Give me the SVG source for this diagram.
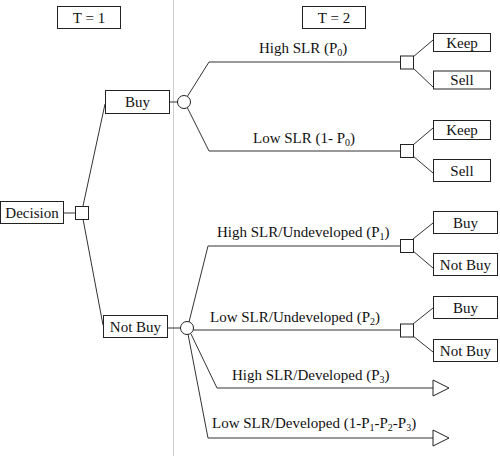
<svg xmlns="http://www.w3.org/2000/svg" width="500" height="470" viewBox="0 0 500 470">
<style>
.box{fill:#fff;stroke:#222;stroke-width:1}
.t{font-family:"Liberation Serif","Times New Roman",serif;font-size:15px;fill:#111}
.c{text-anchor:middle}
.ln{fill:none;stroke:#333;stroke-width:1}
.sub{font-size:10px}
</style>
<rect width="500" height="470" fill="#fff"/>
<line x1="173.5" y1="0" x2="173.5" y2="456" stroke="#cfcfcf" stroke-width="1"/>
<g id="connectors" class="ln">
<polyline points="63,213 75,213"/>
<polyline points="83,206 105,104"/>
<polyline points="83,219 103,325"/>
<polyline points="169,102 178,102"/>
<polyline points="187,97 209,62 400,62"/>
<polyline points="187,107 209,151 400,151"/>
<polyline points="413,57 433,40"/>
<polyline points="413,68 433,87"/>
<polyline points="413,145 433,128"/>
<polyline points="413,156 433,173"/>
<polyline points="167,328 181,328"/>
<polyline points="189,322 208,246 400,246"/>
<polyline points="193,330 400,330"/>
<polyline points="191,334 217,388 433,388"/>
<polyline points="188,334 208,438 433,438"/>
<polyline points="413,239 433,223"/>
<polyline points="413,251 433,268"/>
<polyline points="413,324 433,308"/>
<polyline points="413,336 433,352"/>
</g>
<g id="t1"><rect class="box" x="57.5" y="6.5" width="63" height="22"/><text class="t c" x="89" y="23">T = 1</text></g>
<g id="t2"><rect class="box" x="302.5" y="6.5" width="63" height="22"/><text class="t c" x="334" y="23">T = 2</text></g>
<g id="decision"><rect class="box" x="0.5" y="201.5" width="63" height="22"/><text class="t c" x="32" y="218">Decision</text></g>
<g id="dec1"><rect class="box" x="75.5" y="206.5" width="13" height="13"/></g>
<g id="buy"><rect class="box" x="105.5" y="90.5" width="64" height="23"/><text class="t c" x="137.5" y="107">Buy</text></g>
<g id="chance1"><circle class="box" cx="184" cy="102" r="6.5"/></g>
<g id="notbuy"><rect class="box" x="103.5" y="315.5" width="64" height="22"/><text class="t c" x="135.5" y="332">Not Buy</text></g>
<g id="chance2"><circle class="box" cx="187" cy="328" r="6.5"/></g>
<g id="dec2"><rect class="box" x="400.5" y="56" width="13" height="13"/></g>
<g id="dec3"><rect class="box" x="400.5" y="144.5" width="13" height="13"/></g>
<g id="dec4"><rect class="box" x="400.5" y="239.5" width="13" height="13"/></g>
<g id="dec5"><rect class="box" x="400.5" y="324" width="13" height="13"/></g>
<g id="keep1"><rect class="box" x="433.5" y="33.5" width="57" height="18"/><text class="t c" x="462" y="48">Keep</text></g>
<g id="sell1"><rect class="box" x="433.5" y="71" width="57" height="18"/><text class="t c" x="462" y="85">Sell</text></g>
<g id="keep2"><rect class="box" x="433.5" y="120.5" width="57" height="19"/><text class="t c" x="462" y="135">Keep</text></g>
<g id="sell2"><rect class="box" x="433.5" y="159.5" width="57" height="22"/><text class="t c" x="462" y="176">Sell</text></g>
<g id="buy2"><rect class="box" x="433.5" y="211.5" width="64" height="22"/><text class="t c" x="465.5" y="228">Buy</text></g>
<g id="notbuy2"><rect class="box" x="433.5" y="253.5" width="64" height="22"/><text class="t c" x="465.5" y="270">Not Buy</text></g>
<g id="buy3"><rect class="box" x="433.5" y="296.5" width="64" height="22"/><text class="t c" x="465.5" y="313">Buy</text></g>
<g id="notbuy3"><rect class="box" x="433.5" y="339.5" width="64" height="22"/><text class="t c" x="465.5" y="356">Not Buy</text></g>
<g id="end1"><polygon class="box" points="433,380 449,388 433,396"/></g>
<g id="end2"><polygon class="box" points="433,430 449,438 433,446"/></g>
<g id="labels">
<text class="t" x="259" y="53">High SLR (P<tspan class="sub" dy="3">0</tspan><tspan dy="-3">)</tspan></text>
<text class="t" x="253" y="143">Low SLR (1- P<tspan class="sub" dy="3">0</tspan><tspan dy="-3">)</tspan></text>
<text class="t" x="217" y="237">High SLR/Undeveloped (P<tspan class="sub" dy="3">1</tspan><tspan dy="-3">)</tspan></text>
<text class="t" x="210" y="322">Low SLR/Undeveloped (P<tspan class="sub" dy="3">2</tspan><tspan dy="-3">)</tspan></text>
<text class="t" x="232" y="380">High SLR/Developed (P<tspan class="sub" dy="3">3</tspan><tspan dy="-3">)</tspan></text>
<text class="t" x="212" y="428">Low SLR/Developed (1-P<tspan class="sub" dy="3">1</tspan><tspan dy="-3">-P</tspan><tspan class="sub" dy="3">2</tspan><tspan dy="-3">-P</tspan><tspan class="sub" dy="3">3</tspan><tspan dy="-3">)</tspan></text>
</g>
</svg>
